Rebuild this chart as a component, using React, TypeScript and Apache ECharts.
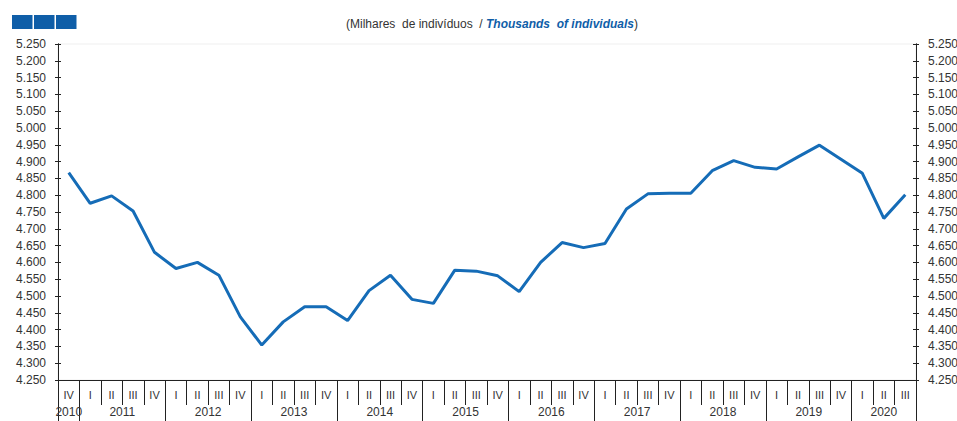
import { useEffect, useRef } from 'react';
import * as echarts from 'echarts';

const quarterLabels = [
  'IV',
  'I', 'II', 'III', 'IV',
  'I', 'II', 'III', 'IV',
  'I', 'II', 'III', 'IV',
  'I', 'II', 'III', 'IV',
  'I', 'II', 'III', 'IV',
  'I', 'II', 'III', 'IV',
  'I', 'II', 'III', 'IV',
  'I', 'II', 'III', 'IV',
  'I', 'II', 'III', 'IV',
  'I', 'II', 'III',
];

const years = ['2010', '2011', '2012', '2013', '2014', '2015', '2016', '2017', '2018', '2019', '2020'];
const quartersPerYear = [1, 4, 4, 4, 4, 4, 4, 4, 4, 4, 3];

// Milhares de indivíduos / Thousands of individuals
const employed = [
  4867, 4776, 4798, 4753, 4630, 4582, 4600, 4562, 4438, 4354,
  4423, 4468, 4468, 4427, 4516, 4562, 4490, 4478, 4577, 4574,
  4560, 4513, 4600, 4659, 4644, 4656, 4759, 4804, 4806, 4806,
  4873, 4903, 4883, 4878, 4914, 4949, 4907, 4865, 4731, 4801,
];

const yMin = 4250;
const yMax = 5250;
const yStep = 50;

const FONT = '"Liberation Sans", Arial, sans-serif';
const AXIS_COLOR = '#222';
const TEXT_COLOR = '#333';
const LINE_BLUE = '#156cb7';
const DARK_BLUE = '#0f5ea8';

export default function App() {
  const ref = useRef<HTMLDivElement>(null);

  useEffect(() => {
    const chart = echarts.init(ref.current!, null, { renderer: 'svg' });

    const boundaries: number[] = [0];
    const centers: number[] = [];
    let acc = 0;
    quartersPerYear.forEach((n) => {
      centers.push(acc + n / 2);
      acc += n;
      boundaries.push(acc);
    });
    const boundarySet = new Set(boundaries);
    const total = quarterLabels.length;

    const yLabelFmt = (v: number) => (v / 1000).toFixed(3);

    const baseY = {
      type: 'value',
      min: yMin,
      max: yMax,
      interval: yStep,
      splitLine: { show: false },
      axisLine: { show: true, lineStyle: { color: AXIS_COLOR, width: 1 } },
    };

    chart.setOption({
      animation: false,
      backgroundColor: '#fff',
      textStyle: { fontFamily: FONT },
      grid: {
        left: 58,
        right: 41,
        top: 44,
        bottom: 41,
        outerBoundsMode: 'none',
        containLabel: false,
        show: true,
        borderColor: '#efefef',
        borderWidth: 1,
      },
      graphic: [
        { type: 'rect', left: 12, top: 15, shape: { width: 20.5, height: 14 }, style: { fill: DARK_BLUE } },
        { type: 'rect', left: 34, top: 15, shape: { width: 20.5, height: 14 }, style: { fill: DARK_BLUE } },
        { type: 'rect', left: 56, top: 15, shape: { width: 20.5, height: 14 }, style: { fill: DARK_BLUE } },
        {
          type: 'text',
          x: 492,
          y: 24,
          style: {
            text: '{a|(Milhares  de indivíduos  / }{b|Thousands  of individuals}{a|)}',
            align: 'center',
            verticalAlign: 'middle',
            rich: {
              a: { fontSize: 12, fontFamily: FONT, fill: TEXT_COLOR, color: TEXT_COLOR },
              b: {
                fontSize: 12,
                fontFamily: FONT,
                fontStyle: 'italic',
                fontWeight: 'bold',
                fill: DARK_BLUE,
                color: DARK_BLUE,
              },
            },
          },
        },
      ],
      xAxis: [
        {
          type: 'category',
          data: quarterLabels,
          boundaryGap: true,
          position: 'bottom',
          axisLine: { show: true, lineStyle: { color: AXIS_COLOR, width: 1 } },
          axisTick: { show: true, interval: 0, length: 25, lineStyle: { color: AXIS_COLOR } },
          axisLabel: { interval: 0, margin: 9, fontSize: 11, color: TEXT_COLOR, fontFamily: FONT },
          splitLine: { show: false },
        },
        {
          type: 'category',
          data: quarterLabels,
          boundaryGap: true,
          position: 'bottom',
          axisLine: { show: false },
          axisTick: {
            show: true,
            interval: (index: number) => boundarySet.has(index),
            length: 48,
            lineStyle: { color: AXIS_COLOR },
          },
          axisLabel: { show: false },
          splitLine: { show: false },
        },
        {
          type: 'value',
          min: 0,
          max: total,
          interval: 0.5,
          position: 'bottom',
          axisLine: { show: false },
          axisTick: { show: false },
          splitLine: { show: false },
          axisLabel: {
            margin: 26,
            fontSize: 12,
            color: TEXT_COLOR,
            fontFamily: FONT,
            showMinLabel: true,
            showMaxLabel: true,
            formatter: (v: number) => {
              const i = centers.findIndex((c) => Math.abs(c - v) < 0.01);
              return i >= 0 ? years[i] : '';
            },
          },
        },
      ],
      yAxis: [
        {
          ...baseY,
          position: 'left',
          axisTick: { show: true, inside: false, length: 3, lineStyle: { color: AXIS_COLOR } },
          axisLabel: { margin: 12, fontSize: 12, color: TEXT_COLOR, fontFamily: FONT, formatter: yLabelFmt },
        },
        {
          ...baseY,
          position: 'left',
          axisTick: { show: true, inside: true, length: 3, lineStyle: { color: AXIS_COLOR } },
          axisLabel: { show: false },
        },
        {
          ...baseY,
          position: 'right',
          axisTick: { show: true, inside: false, length: 3, lineStyle: { color: AXIS_COLOR } },
          axisLabel: { margin: 12, fontSize: 12, color: TEXT_COLOR, fontFamily: FONT, formatter: yLabelFmt },
        },
        {
          ...baseY,
          position: 'right',
          axisTick: { show: true, inside: true, length: 3, lineStyle: { color: AXIS_COLOR } },
          axisLabel: { show: false },
        },
      ],
      series: [
        {
          type: 'line',
          xAxisIndex: 0,
          yAxisIndex: 0,
          data: employed,
          symbol: 'none',
          lineStyle: { color: LINE_BLUE, width: 3 },
          itemStyle: { color: LINE_BLUE },
        },
      ],
    });

    return () => chart.dispose();
  }, []);

  return (
    <div
      ref={ref}
      style={{ position: 'absolute', left: 0, top: 0, width: 957, height: 421 }}
    />
  );
}
